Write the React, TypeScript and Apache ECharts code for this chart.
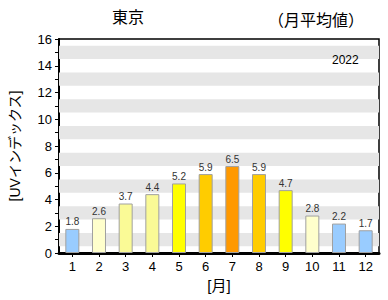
import React, { useEffect, useRef } from "react";
import * as echarts from "echarts";

const months = ["1", "2", "3", "4", "5", "6", "7", "8", "9", "10", "11", "12"];
const uvValues = [1.8, 2.6, 3.7, 4.4, 5.2, 5.9, 6.5, 5.9, 4.7, 2.8, 2.2, 1.7];
const barColors = [
  "#99ccff", "#ffffcc", "#fafa96", "#fafa96", "#ffff00", "#ffcc00",
  "#ff9900", "#ffcc00", "#ffff00", "#ffffcc", "#99ccff", "#99ccff",
];
const stripeBands = [
  [0.5, 1.5], [2.5, 3.5], [4.5, 5.5], [6.5, 7.5],
  [8.5, 9.5], [10.5, 11.5], [12.5, 13.5], [14.5, 15.5],
];
const titleText = "東京";
const subTitleText = "（月平均値）";
const yearText = "2022";
const yAxisName = "[UVインデックス]";
const xAxisName = "[月]";

const FONT = "'Liberation Sans', 'Noto Sans CJK JP', sans-serif";

export default function App() {
  const ref = useRef<HTMLDivElement>(null);
  useEffect(() => {
    if (!ref.current) return;
    const chart = echarts.init(ref.current, null, { renderer: "svg" });
    chart.setOption({
      animation: false,
      backgroundColor: "#ffffff",
      grid: {
        left: 55, right: 9, top: 39, bottom: 47,
        show: true, borderColor: "#000", borderWidth: 1.5, backgroundColor: "transparent",
      },
      graphic: [
        { type: "text", left: 112, top: 9, z: 100, style: { text: titleText, font: `16px ${FONT}`, fill: "#000" } },
        { type: "text", left: 268, top: 12, z: 100, style: { text: subTitleText, font: `16px ${FONT}`, fill: "#000" } },
        { type: "text", left: 332, top: 54, z: 100, style: { text: yearText, font: `12px ${FONT}`, fill: "#000" } },
      ],
      xAxis: {
        type: "category",
        data: months,
        name: xAxisName,
        nameLocation: "middle",
        nameGap: 25,
        nameTextStyle: { fontSize: 15, color: "#000", fontFamily: FONT },
        axisLine: { lineStyle: { color: "#000", width: 3 } },
        axisTick: { show: true, alignWithLabel: true, length: 4, lineStyle: { color: "#000", width: 1 } },
        axisLabel: { fontSize: 13, color: "#000", fontFamily: FONT, margin: 7 },
        splitLine: { show: false },
      },
      yAxis: {
        type: "value",
        min: 0,
        max: 16,
        interval: 2,
        name: yAxisName,
        nameLocation: "middle",
        nameRotate: 90,
        nameGap: 37,
        nameTextStyle: { fontSize: 14, color: "#000", fontFamily: FONT },
        axisLine: { show: true, lineStyle: { color: "#000", width: 2 } },
        axisTick: { show: true, length: 4, lineStyle: { color: "#000" } },
        minorTick: { show: true, splitNumber: 2, length: 4, lineStyle: { color: "#000" } },
        axisLabel: { fontSize: 13, color: "#000", fontFamily: FONT, margin: 7 },
        splitLine: { show: false },
      },
      series: [
        {
          type: "bar",
          data: uvValues.map((v, i) => ({ value: v, itemStyle: { color: barColors[i] } })),
          barWidth: 14,
          itemStyle: { borderColor: "#a0a0a0", borderWidth: 1 },
          label: {
            show: true,
            position: "top",
            distance: 2,
            fontSize: 10,
            color: "#333",
            fontFamily: FONT,
            formatter: (p: any) => p.value.toFixed(1),
          },
          markArea: {
            silent: true,
            itemStyle: { color: "#e6e6e6" },
            data: stripeBands.map(([a, b]) => [{ yAxis: a }, { yAxis: b }]),
          },
          z: 3,
        },
      ],
    });
    return () => chart.dispose();
  }, []);
  return (
    <div
      ref={ref}
      style={{ position: "fixed", left: 0, top: 0, width: 388, height: 300 }}
    />
  );
}
